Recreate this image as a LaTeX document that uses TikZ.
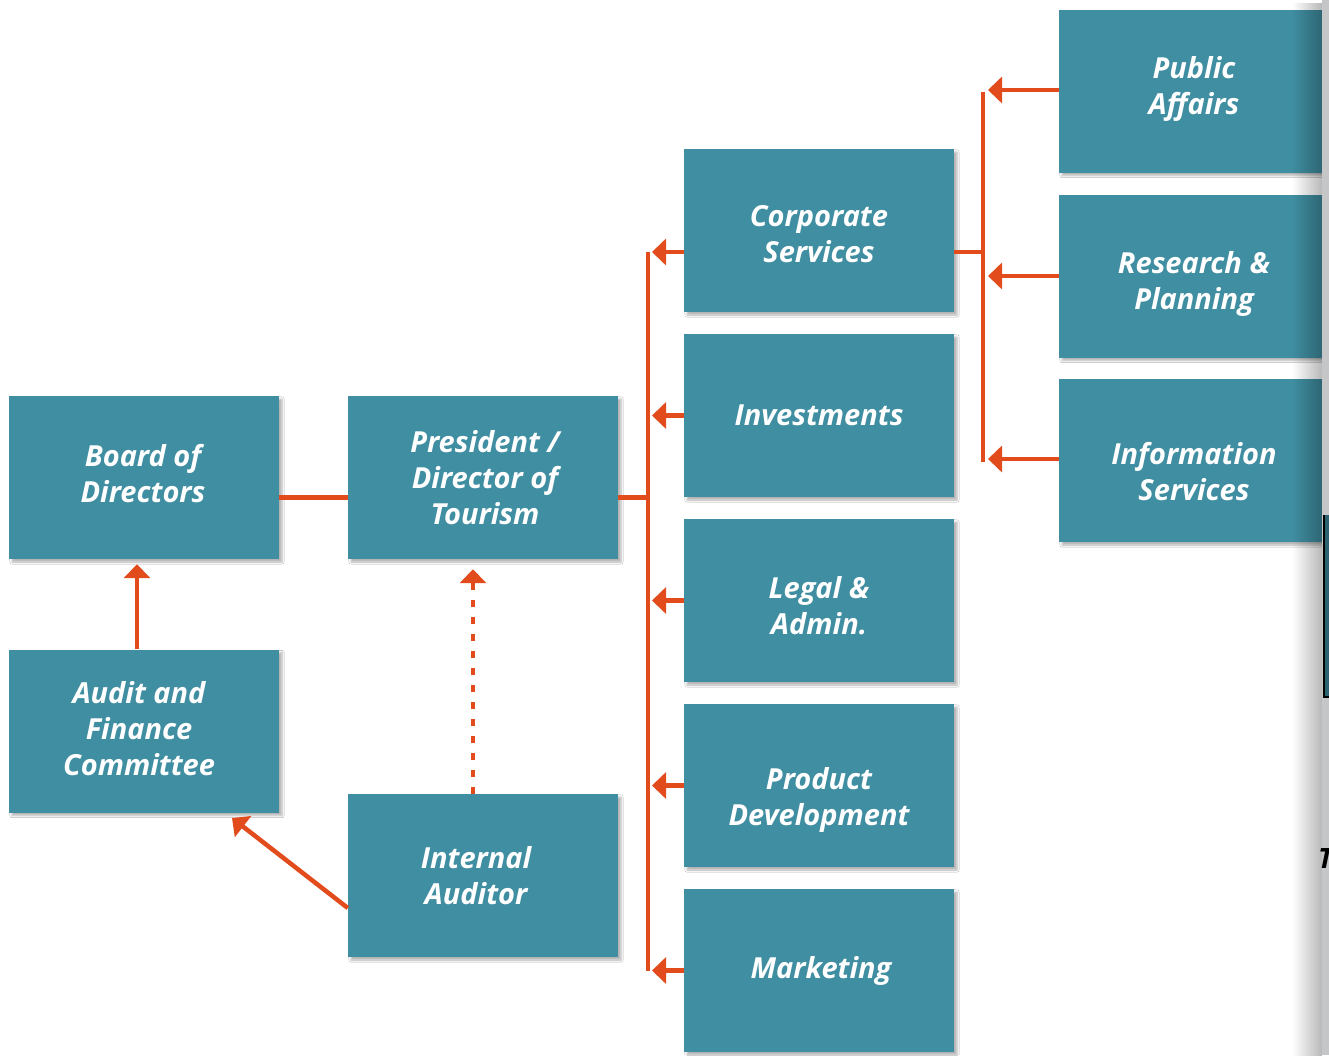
\documentclass[tikz,border=0pt]{standalone}
\usepackage{fontspec}
\setmainfont{Open Sans}
\usetikzlibrary{arrows.meta,shadows.blur,fadings}

\definecolor{boxteal}{RGB}{64,142,161}
\definecolor{linkorange}{RGB}{226,76,28}
\definecolor{gutter}{RGB}{196,198,200}

\tikzset{
  unitbox/.style={fill=boxteal, draw=none, minimum width=270pt, minimum height=163pt,
    inner sep=0pt,
    blur shadow={shadow xshift=3pt, shadow yshift=-3pt, shadow blur steps=6, shadow opacity=30}},
  boxtext/.style={inner sep=0pt, align=center, text=white,
    font=\bfseries\itshape\fontsize{29}{36}\selectfont},
  link/.style={draw=linkorange, line width=4.5pt},
  linkarrow/.style={link, -{Triangle[length=14pt, width=26pt]}},
  dotlink/.style={linkarrow, dash pattern=on 7pt off 10pt}
}

\begin{document}
\begin{tikzpicture}[x=1pt, y=-1pt]
\useasboundingbox (0,0) rectangle (1329,1055);
\fill[white] (0,0) rectangle (1329,1055);

% governance column
\node[unitbox] (board)     at (144,477.5) {};
\node[unitbox] (audit)     at (144,731)   {};
\node[unitbox] (president) at (483,477.5) {};
\node[unitbox] (auditor)   at (483,875.5) {};

% divisions
\node[unitbox] (corp)    at (819,230.5) {};
\node[unitbox] (invest)  at (819,415.5) {};
\node[unitbox] (legal)   at (819,600.5) {};
\node[unitbox] (product) at (819,785.5) {};
\node[unitbox] (market)  at (819,970.5) {};

% corporate services units
\node[unitbox] (public)   at (1194,91)    {};
\node[unitbox] (research) at (1194,276)   {};
\node[unitbox] (info)     at (1194,460.5) {};

% box titles
\node[boxtext] (boardT)     at ([xshift=-1pt,yshift=4pt]board)   {Board of\\Directors};
\node[boxtext] (auditT)     at ([xshift=-5pt,yshift=2pt]audit)   {Audit and\\Finance\\Committee};
\node[boxtext] (presidentT) at ([xshift=2pt]president)           {President /\\Director of\\Tourism};
\node[boxtext] (auditorT)   at ([xshift=-7pt]auditor)            {Internal\\Auditor};
\node[boxtext] (corpT)      at ([yshift=-3.5pt]corp)             {Corporate\\Services};
\node[boxtext] (investT)    at (invest)                          {Investments};
\node[boxtext] (legalT)     at ([yshift=-5pt]legal)              {Legal \&\\Admin.};
\node[boxtext] (productT)   at ([yshift=-14pt]product)           {Product\\Development};
\node[boxtext] (marketT)    at ([xshift=2pt]market)              {Marketing};
\node[boxtext] (publicT)    at ([yshift=2pt]public)              {Public\\Affairs};
\node[boxtext] (researchT)  at ([yshift=-8pt]research)           {Research \&\\Planning};
\node[boxtext] (infoT)      at ([yshift=-11pt]info)              {Information\\Services};

% reporting lines of the president
\coordinate (spine)  at (648,497.5);
\coordinate (trunkA) at (648,252);
\coordinate (trunkB) at (648,970.5);
\coordinate (tipL)   at (652,0);
\draw[link] ([yshift=-20pt]board.east) -- ([yshift=-20pt]president.west);
\draw[link] ([yshift=-20pt]president.east) -- (spine);
\draw[link] (trunkA) -- (trunkB);

\coordinate (corpport) at ([yshift=-21.5pt]corp.west);
\draw[linkarrow] (corpport) -- (corpport -| tipL);
\draw[linkarrow] (invest.west)  -- (invest.west -| tipL);
\draw[linkarrow] (legal.west)   -- (legal.west -| tipL);
\draw[linkarrow] (product.west) -- (product.west -| tipL);
\draw[linkarrow] (market.west)  -- (market.west -| tipL);

% reporting lines of corporate services
\coordinate (corpout) at ([yshift=-21.5pt]corp.east);
\coordinate (trunkC)  at (983,92);
\coordinate (trunkD)  at (983,462);
\coordinate (tipR)    at (988,0);
\draw[link] (corpout) -- (corpout -| trunkC);
\draw[link] (trunkC) -- (trunkD);
\coordinate (pubport)  at ([yshift=1pt]public.west);
\coordinate (infoport) at ([yshift=1.5pt]info.west);
\draw[linkarrow] (pubport)        -- (pubport -| tipR);
\draw[linkarrow] (research.west)  -- (research.west -| tipR);
\draw[linkarrow] (infoport)       -- (infoport -| tipR);

% audit lines
\draw[linkarrow, shorten >=5pt] ([xshift=-7pt]audit.north) -- ([xshift=-7pt]board.south);
\draw[dotlink, shorten >=10pt] ([xshift=-10pt]auditor.north) -- ([xshift=-10pt]president.south);
\coordinate (audittip) at (232,818);
\draw[linkarrow] ([yshift=-32.5pt]auditor.west) -- (audittip);

% binding gutter at the page edge
\fill[black, opacity=0.28, path fading=west] (1292,0) rectangle (1322,1055);
\fill[gutter] (1322,0) rectangle (1329,1055);
\fill[boxteal!70!black] (1325,515) rectangle (1329,697);
\draw[black, line width=2pt] (1324,515) -- (1324,697) -- (1330,697);
\node[anchor=base west, inner sep=0pt, text=black,
      font=\bfseries\itshape\fontsize{28}{30}\selectfont] (edgeT) at (1318,868) {T};
\end{tikzpicture}
\end{document}
